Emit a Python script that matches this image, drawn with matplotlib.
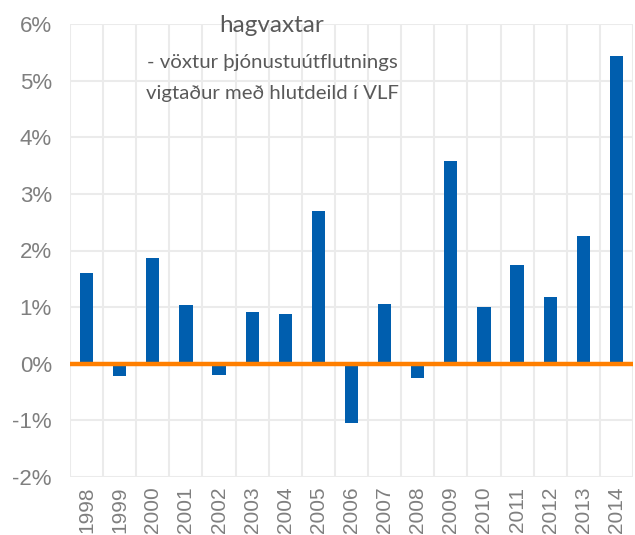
import matplotlib
matplotlib.use("Agg")
import matplotlib.pyplot as plt
import numpy as np
from matplotlib.ticker import FixedLocator

years = ["1998", "1999", "2000", "2001", "2002", "2003", "2004", "2005", "2006",
         "2007", "2008", "2009", "2010", "2011", "2012", "2013", "2014"]
values = [1.60, -0.22, 1.87, 1.04, -0.19, 0.92, 0.88, 2.69, -1.04,
          1.06, -0.26, 3.58, 1.00, 1.75, 1.17, 2.25, 5.43]
yticks = [-2, -1, 0, 1, 2, 3, 4, 5, 6]
ytick_labels = ["-2%", "-1%", "0%", "1%", "2%", "3%", "4%", "5%", "6%"]
title_lines = ["hagvaxtar", "- vöxtur þjónustuútflutnings", "vigtaður með hlutdeild í VLF"]

fig = plt.figure(figsize=(6.35, 5.35), dpi=100)
ax = fig.add_axes([70/635, 1-477/535, 563/635, (477-24)/535])

x = np.arange(len(years))
ax.bar(x, values, width=0.4, color="#005EAE", zorder=3)
ax.axhline(0, color="#FF7F00", linewidth=3.2, zorder=4)

ax.set_xlim(-0.5, len(years)-0.5)
ax.set_ylim(-2, 6)
ax.set_yticks(yticks)
ax.set_yticklabels(ytick_labels, fontfamily="Liberation Sans", fontsize=16, color="#7F7F7F")
ax.set_xticks(x)
ax.set_xticklabels(years, rotation=90, fontfamily="Liberation Sans", fontsize=15, color="#7F7F7F")
ax.xaxis.set_minor_locator(FixedLocator(np.arange(-0.5, len(years), 1.0)))
ax.tick_params(axis="both", which="both", length=0)
ax.tick_params(axis="y", pad=13)
ax.tick_params(axis="x", pad=7)
ax.grid(axis="y", which="major", color="#EBEBEB", linewidth=1.5, zorder=0)
ax.grid(axis="x", which="minor", color="#EBEBEB", linewidth=1.5, zorder=0)
ax.grid(axis="x", which="major", visible=False)
for s in ax.spines.values():
    s.set_visible(False)
ax.set_axisbelow(True)

fig.text(272/635, 1-25/535, title_lines[0], ha="center", va="center",
         fontfamily="Lato", fontsize=17.5, color="#595959")
fig.text(272/635, 1-62/535, title_lines[1], ha="center", va="center",
         fontfamily="Lato", fontsize=14.7, color="#595959")
fig.text(272/635, 1-93/535, title_lines[2], ha="center", va="center",
         fontfamily="Lato", fontsize=14.7, color="#595959")

fig.savefig("out.png", dpi=100)
